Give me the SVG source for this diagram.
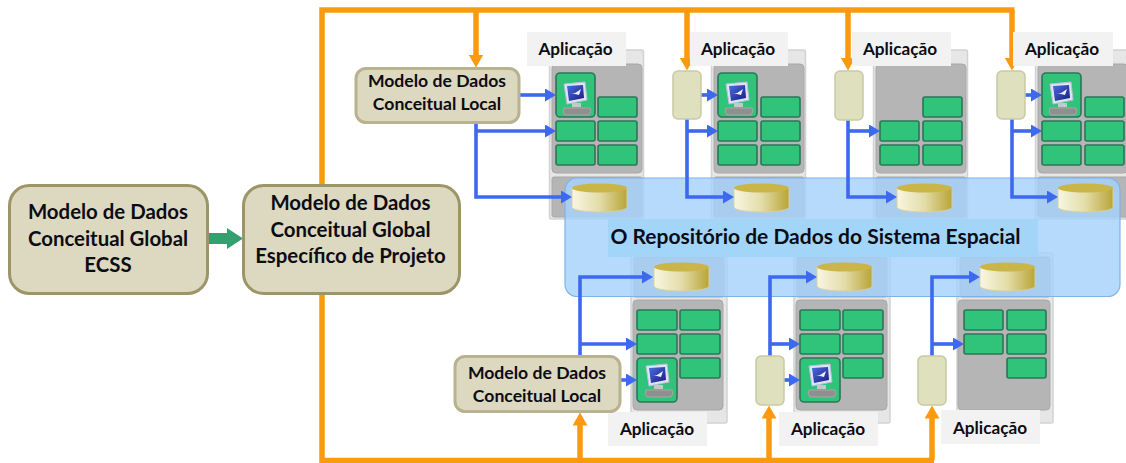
<svg xmlns="http://www.w3.org/2000/svg" width="1126" height="463" viewBox="0 0 1126 463">
<style>
text{font-family:"Lato","Liberation Sans",sans-serif;font-weight:700;fill:#0c0c14;text-anchor:middle}
.outer{fill:#e6e6e6;stroke:#d2d2d2;stroke-width:1.5}
.inner{fill:#b5b5b5;stroke:#a8a8a8;stroke-width:1}
.g{fill:#2fc47a;stroke:#2c7558;stroke-width:1.6}
.lbl{fill:#f2f2f2}
.small{fill:#dfe0bd;stroke:#c9c9a5;stroke-width:1.5}
.model{fill:#ddd8c0;stroke:#b9b28f;stroke-width:3}
.big{fill:#ddd8c0;stroke:#9c9568;stroke-width:3}
.o{fill:none;stroke:#fb9a10;stroke-width:5.5}
.oa{fill:none;stroke:#fb9a10;stroke-width:5.5;marker-end:url(#oh)}
.ba{fill:none;stroke:#3d68f0;stroke-width:3.6;marker-end:url(#bh)}
.t15{font-size:17.2px}
.t14{font-size:17.6px}
.t19{font-size:20.400px}
</style>
<defs>
<marker id="oh" markerUnits="userSpaceOnUse" markerWidth="15" markerHeight="15" refX="0.5" refY="7.5" orient="auto"><path d="M0 0L13 7.5L0 15z" fill="#fb9a10"/></marker>
<marker id="bh" markerUnits="userSpaceOnUse" markerWidth="11" markerHeight="13" refX="1" refY="6.500" orient="auto"><path d="M0 0L11 6.500L0 13z" fill="#3d68f0"/></marker>
<linearGradient id="cy"><stop offset="0" stop-color="#f8f6e2"/><stop offset="0.5" stop-color="#e4dca8"/><stop offset="1" stop-color="#b8a537"/></linearGradient>
<linearGradient id="scr" x1="0" y1="0" x2="1" y2="1"><stop offset="0" stop-color="#4a6fe0"/><stop offset="1" stop-color="#1a1a80"/></linearGradient>
<g id="cyl">
<path d="M0 5V24C0 27 12 29 27.500 29S55 27 55 24V5z" fill="url(#cy)" stroke="#d8d0a0" stroke-width="1"/>
<ellipse cx="27.500" cy="5" rx="27.500" ry="4.500" fill="#c9b548"/>
</g>
<g id="pc">
<path d="M1 2L22 0L24 18L4 22z" fill="#dfe4f5" stroke="#b8bfd8" stroke-width="1"/>
<path d="M4 4L20 3L21 16L6 19z" fill="url(#scr)"/>
<path d="M7 12C11 12 14 10 18 7L16 13L12 12z" fill="#eef"/>
<path d="M9 21H18V25H9z" fill="#c4c8cc"/>
<path d="M1 26H27Q29 30 26 33H2Q-1 30 1 26z" fill="#8f8f8f" stroke="#a8a8a8" stroke-width="1"/>
</g>
</defs>

<g id="apps">
<g id="app-t1"><rect class="outer" x="549.500" y="50" width="94" height="169" rx="2"/><rect class="inner" x="552" y="64" width="90" height="109" rx="4"/><rect class="inner" x="552" y="177" width="90" height="40" rx="2"/>
<rect class="g" x="556" y="73" width="39" height="44" rx="4"/><rect class="g" x="598" y="97" width="39" height="20" rx="2"/><rect class="g" x="556" y="121" width="39" height="20" rx="2"/><rect class="g" x="598" y="121" width="39" height="20" rx="2"/><rect class="g" x="556" y="145" width="39" height="20" rx="2"/><rect class="g" x="598" y="145" width="39" height="20" rx="2"/><use href="#pc" x="563" y="82"/></g>
<g id="app-t2"><rect class="outer" x="711.500" y="50" width="94" height="169" rx="2"/><rect class="inner" x="714" y="64" width="90" height="109" rx="4"/><rect class="inner" x="714" y="177" width="90" height="40" rx="2"/>
<rect class="g" x="718" y="73" width="39" height="44" rx="4"/><rect class="g" x="761" y="97" width="39" height="20" rx="2"/><rect class="g" x="718" y="121" width="39" height="20" rx="2"/><rect class="g" x="761" y="121" width="39" height="20" rx="2"/><rect class="g" x="718" y="145" width="39" height="20" rx="2"/><rect class="g" x="761" y="145" width="39" height="20" rx="2"/><use href="#pc" x="725" y="82"/></g>
<g id="app-t3"><rect class="outer" x="873.500" y="50" width="94" height="169" rx="2"/><rect class="inner" x="876" y="64" width="90" height="109" rx="4"/><rect class="inner" x="876" y="177" width="90" height="40" rx="2"/>
<rect class="g" x="923" y="97" width="39" height="20" rx="2"/><rect class="g" x="880" y="121" width="39" height="20" rx="2"/><rect class="g" x="923" y="121" width="39" height="20" rx="2"/><rect class="g" x="880" y="145" width="39" height="20" rx="2"/><rect class="g" x="923" y="145" width="39" height="20" rx="2"/></g>
<g id="app-t4"><rect class="outer" x="1035.500" y="50" width="94" height="169" rx="2"/><rect class="inner" x="1038" y="64" width="90" height="109" rx="4"/><rect class="inner" x="1038" y="177" width="90" height="40" rx="2"/>
<rect class="g" x="1042" y="73" width="39" height="44" rx="4"/><rect class="g" x="1085" y="97" width="39" height="20" rx="2"/><rect class="g" x="1042" y="121" width="39" height="20" rx="2"/><rect class="g" x="1085" y="121" width="39" height="20" rx="2"/><rect class="g" x="1042" y="145" width="39" height="20" rx="2"/><rect class="g" x="1085" y="145" width="39" height="20" rx="2"/><use href="#pc" x="1049" y="82"/></g>
<g id="app-b1"><rect class="outer" x="631" y="254" width="96" height="169" rx="2"/><rect class="inner" x="634" y="257" width="90" height="40" rx="2"/><rect class="inner" x="633" y="300" width="90" height="110" rx="4"/>
<rect class="g" x="637" y="310" width="40" height="20" rx="2"/><rect class="g" x="680" y="310" width="40" height="20" rx="2"/><rect class="g" x="637" y="334" width="40" height="20" rx="2"/><rect class="g" x="680" y="334" width="40" height="20" rx="2"/><rect class="g" x="637" y="358" width="40" height="44" rx="4"/><rect class="g" x="680" y="358" width="40" height="20" rx="2"/><use href="#pc" x="645" y="364"/></g>
<g id="app-b2"><rect class="outer" x="794" y="254" width="96" height="169" rx="2"/><rect class="inner" x="797" y="257" width="90" height="40" rx="2"/><rect class="inner" x="796" y="300" width="91" height="110" rx="4"/>
<rect class="g" x="800" y="310" width="40" height="20" rx="2"/><rect class="g" x="843" y="310" width="40" height="20" rx="2"/><rect class="g" x="800" y="334" width="40" height="20" rx="2"/><rect class="g" x="843" y="334" width="40" height="20" rx="2"/><rect class="g" x="800" y="358" width="40" height="44" rx="4"/><rect class="g" x="843" y="358" width="40" height="20" rx="2"/><use href="#pc" x="808" y="364"/></g>
<g id="app-b3"><rect class="outer" x="957" y="253" width="96" height="170" rx="2"/><rect class="inner" x="960" y="257" width="90" height="40" rx="2"/><rect class="inner" x="958" y="300" width="92" height="110" rx="4"/>
<rect class="g" x="964" y="310" width="39" height="20" rx="2"/><rect class="g" x="1007" y="310" width="39" height="20" rx="2"/><rect class="g" x="964" y="334" width="39" height="20" rx="2"/><rect class="g" x="1007" y="334" width="39" height="20" rx="2"/><rect class="g" x="1007" y="358" width="39" height="20" rx="2"/></g>
</g>

<g id="repositorio">
<rect x="565" y="178" width="555" height="118.500" rx="12" fill="#a5d2fb" fill-opacity="0.82" stroke="#7fb2ea" stroke-width="1.2"/>
<rect x="608" y="219" width="430" height="38" fill="#a3d5f8"/>
<text x="815.500" y="244" font-size="21">O Repositório de Dados do Sistema Espacial</text>
</g>

<g id="cilindros">
<use href="#cyl" x="572" y="183"/><use href="#cyl" x="734" y="183"/><use href="#cyl" x="897" y="183"/><use href="#cyl" x="1058" y="183"/>
<use href="#cyl" x="654" y="262"/><use href="#cyl" x="817" y="262"/><use href="#cyl" x="980" y="262"/>
</g>

<g id="connectors">
<path class="o" d="M322 185V10H1014.500"/>
<path class="o" d="M322 294V460.500H934"/>
<path class="oa" d="M476 10V55"/>
<path class="oa" d="M687 10V58"/>
<path class="oa" d="M848 10V58"/>
<path class="oa" d="M1012 10V58"/>
<path class="oa" d="M580 460V425"/>
<path class="oa" d="M769 460V418"/>
<path class="oa" d="M932 460V418"/>
<path d="M209 233H227V228L243 238.500L227 249V244H209z" fill="#34a070"/>
<path class="ba" d="M519 95H546"/>
<path class="ba" d="M476 131H546"/>
<path class="ba" d="M476 123V197H562"/>
<path class="ba" d="M701 95H708"/>
<path class="ba" d="M687 131H708"/>
<path class="ba" d="M687 119V197H724"/>
<path class="ba" d="M848 131H870"/>
<path class="ba" d="M848 120V197H887"/>
<path class="ba" d="M1025 95H1032"/>
<path class="ba" d="M1012 131H1032"/>
<path class="ba" d="M1012 119V197H1048"/>
<path class="ba" d="M620 380H627"/>
<path class="ba" d="M580 344H627"/>
<path class="ba" d="M580 356V277H643"/>
<path class="ba" d="M784 380H790"/>
<path class="ba" d="M770 344H790"/>
<path class="ba" d="M770 356V277H807"/>
<path class="ba" d="M932 344H954"/>
<path class="ba" d="M932 356V277H970"/>
</g>

<g id="rotulos">
<g id="lbl1"><rect class="lbl" x="527" y="32" width="99" height="34"/><text class="t15" x="575.500" y="55">Aplicação</text></g>
<g id="lbl2"><rect class="lbl" x="690" y="32" width="98" height="34"/><text class="t15" x="738" y="55">Aplicação</text></g>
<g id="lbl3"><rect class="lbl" x="852" y="32" width="99" height="34"/><text class="t15" x="900" y="55">Aplicação</text></g>
<g id="lbl4"><rect class="lbl" x="1013" y="32" width="100" height="34"/><text class="t15" x="1062" y="55">Aplicação</text></g>
<g id="lbl5"><rect class="lbl" x="608" y="412" width="99" height="34"/><text class="t15" x="657" y="435">Aplicação</text></g>
<g id="lbl6"><rect class="lbl" x="779" y="412" width="99" height="34"/><text class="t15" x="828" y="435">Aplicação</text></g>
<g id="lbl7"><rect class="lbl" x="941" y="410" width="99" height="34"/><text class="t15" x="990" y="434">Aplicação</text></g>
</g>

<g id="adaptadores">
<rect class="small" x="673" y="71" width="28" height="48" rx="5"/>
<rect class="small" x="835" y="71" width="28" height="49" rx="5"/>
<rect class="small" x="997" y="71" width="28" height="48" rx="5"/>
<rect class="small" x="756" y="356" width="28" height="49" rx="5"/>
<rect class="small" x="918" y="356" width="28" height="49" rx="5"/>
</g>

<g id="local-1"><rect class="model" x="356" y="68.500" width="163" height="54" rx="10"/><text class="t14" x="437" y="87">Modelo de Dados</text><text class="t14" x="437" y="110">Conceitual Local</text></g>
<g id="local-2"><rect class="model" x="455" y="356.500" width="165" height="55" rx="10"/><text class="t14" x="537" y="379">Modelo de Dados</text><text class="t14" x="537" y="402">Conceitual Local</text></g>
<g id="global-ecss"><rect class="big" x="9.500" y="185.500" width="198" height="108" rx="20"/><text class="t19" x="108" y="219">Modelo de Dados</text><text class="t19" x="108" y="246">Conceitual Global</text><text class="t19" x="108" y="272">ECSS</text></g>
<g id="global-projeto"><rect class="big" x="243.500" y="185.500" width="216" height="108" rx="20"/><text class="t19" x="350.500" y="210">Modelo de Dados</text><text class="t19" x="350.500" y="237">Conceitual Global</text><text class="t19" x="350.500" y="263">Específico de Projeto</text></g>
</svg>
